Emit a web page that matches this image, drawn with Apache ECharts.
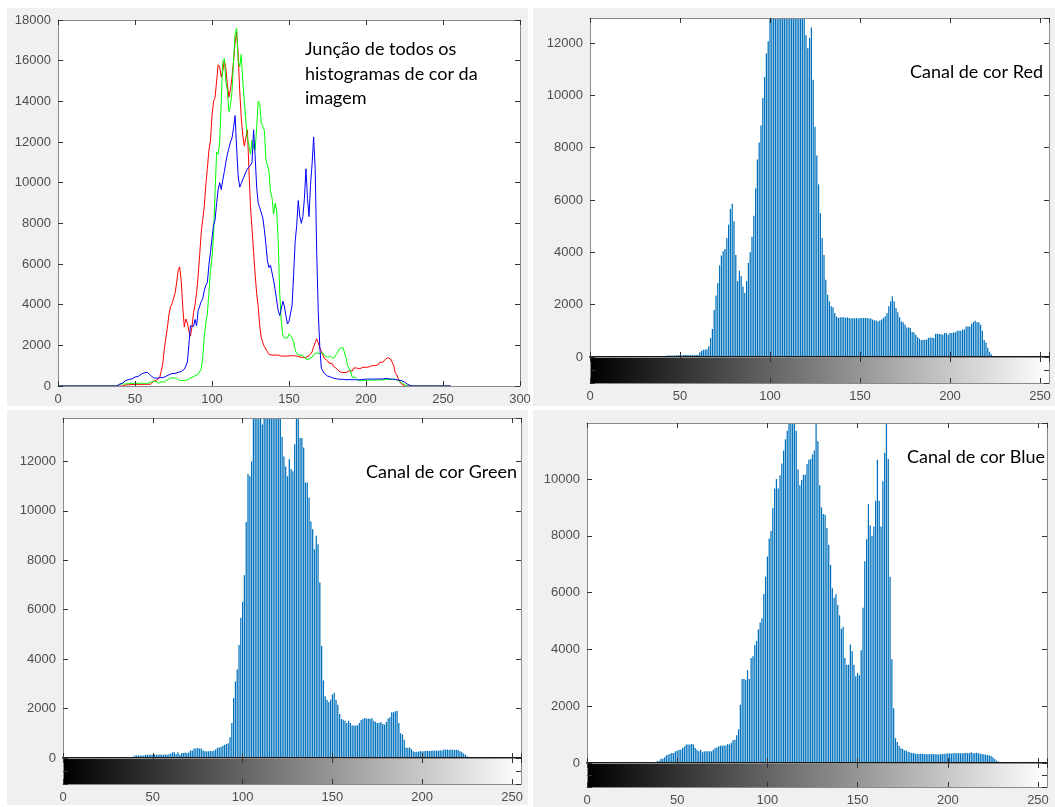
<!DOCTYPE html>
<html>
<head>
<meta charset="utf-8">
<script src="https://cdn.jsdelivr.net/npm/echarts@6/dist/echarts.min.js"></script>
<style>
  html, body { margin: 0; padding: 0; background: #fff; }
  #chart { width: 1055px; height: 807px; }
</style>
</head>
<body>
<div id="chart"></div>
<script>
// contagem de pixels por nível de intensidade (0..255), 16 níveis por linha
const redCounts = [
  0,0,0,0,0,0,0,0,0,0,0,0,0,0,0,0,
  0,0,0,0,0,0,0,0,0,0,0,0,0,0,0,0,
  0,0,0,0,0,0,0,0,0,0,0,60,60,60,60,60,
  70,70,80,70,80,80,80,80,80,80,80,80,90,180,230,280,
  290,300,410,730,1070,1800,2350,2830,3500,3880,4040,4130,4550,5060,5660,5860,
  5190,3900,2900,3300,3100,2700,2450,2900,3600,4000,4600,5400,6450,7550,8200,8850,
  9900,10700,11600,12070,13300,14000,14200,15000,15800,15700,15200,15500,16000,15600,14800,14200,
  14600,15200,16000,16900,17400,16300,14500,13200,12300,11800,12200,12600,10600,8800,7700,6600,
  5500,4550,3900,2950,2380,2130,1940,1900,1680,1550,1490,1520,1520,1520,1490,1520,
  1490,1470,1490,1470,1490,1470,1490,1490,1490,1490,1490,1470,1470,1430,1400,1400,
  1360,1400,1430,1490,1560,1680,1940,2130,2320,2130,1870,1710,1520,1360,1330,1240,
  1130,1130,1110,960,940,850,760,700,640,660,660,660,730,750,750,730,
  890,890,880,880,850,920,920,850,920,920,940,940,1000,1000,1000,1050,
  1050,1170,1170,1170,1270,1340,1390,1330,1330,1240,1000,650,550,350,200,100,
  40,0,0,0,0,0,0,0,0,0,0,0,0,0,0,0,
  0,0,0,0,0,0,0,0,0,0,0,0,0,0,0,0
];
const greenCounts = [
  0,0,0,0,0,0,0,0,0,0,0,0,0,0,0,0,
  0,0,0,0,0,0,0,0,0,0,0,0,0,0,0,0,
  0,0,0,0,0,0,0,50,100,100,100,100,100,100,130,130,
  130,130,130,140,130,130,140,130,130,140,130,150,180,230,230,150,
  230,130,200,200,220,200,220,300,300,380,380,400,380,380,300,270,
  270,270,280,270,300,340,410,430,450,500,540,570,600,840,1420,2430,
  3100,3580,4570,5680,6320,7400,9550,11500,11400,12000,14000,16000,16100,15000,14500,13500,
  13800,14500,16000,17300,17600,16000,15700,16300,15000,14000,13000,12200,11800,11400,12100,11700,
  11600,12700,14000,13900,12950,12950,12570,11150,11150,10540,9570,9260,8450,8990,8650,7100,
  4530,3140,2500,2360,2270,2360,2570,2640,2360,2160,1780,1580,1550,1510,1420,1510,
  1420,1320,1320,1320,1320,1420,1540,1580,1620,1600,1600,1580,1620,1510,1460,1420,
  1420,1460,1380,1350,1460,1600,1650,1850,1850,1890,1900,1420,1000,950,740,430,
  400,430,360,270,240,250,260,280,260,280,280,290,280,290,300,290,
  300,300,310,300,340,330,340,320,340,330,320,330,320,270,240,180,
  130,70,30,0,0,0,0,0,0,0,0,0,0,0,0,0,
  0,0,0,0,0,0,0,0,0,0,0,0,0,0,0,0
];
const blueCounts = [
  0,0,0,0,0,0,0,0,0,0,0,0,0,0,0,0,
  0,0,0,0,0,0,0,0,0,0,0,0,0,0,0,0,
  0,0,0,0,0,0,0,60,80,150,150,200,270,300,320,350,
  350,410,440,460,470,530,580,650,650,650,670,650,530,470,410,470,
  380,410,410,410,410,410,470,530,550,590,610,610,620,620,670,650,
  710,800,820,980,1180,2050,2960,2960,2930,3270,2960,3700,3760,4150,4300,4700,
  4950,5100,5950,6560,7270,7900,8170,8980,9660,10000,9660,10130,10540,11000,11400,11700,
  12000,12200,12700,13300,11700,10330,9780,9960,10150,10150,10530,10680,10700,10860,11000,12600,
  11330,9780,9000,8770,8740,8270,7680,6970,6150,5820,5940,5560,5200,4730,4800,3700,
  3460,3460,4170,3930,3460,3050,3170,3090,3970,5470,7100,7880,9120,8360,8000,8330,
  9230,10680,9230,8330,9920,10920,12250,10700,6560,3650,1930,870,740,610,520,490,
  440,440,400,380,350,350,330,330,320,330,320,310,320,310,320,310,
  320,310,310,300,310,320,330,330,340,340,330,340,350,340,350,340,
  340,350,360,340,350,380,340,350,360,340,330,320,310,290,280,270,
  250,200,140,80,50,20,0,0,0,0,0,0,0,0,0,0,
  0,0,0,0,0,0,0,0,0,0,0,0,0,0,0,0
];

// eixos
const lineXTicks = [0, 50, 100, 150, 200, 250, 300];
const lineYTicks = [0, 2000, 4000, 6000, 8000, 10000, 12000, 14000, 16000, 18000];
const histXTicks = [0, 50, 100, 150, 200, 250];
const histXMax = 255;
const redYMax = 12960, greenYMax = 13760, blueYMax = 11970;

const titles = {
  all: 'Junção de todos os\nhistogramas de cor da\nimagem',
  red: 'Canal de cor Red',
  green: 'Canal de cor Green',
  blue: 'Canal de cor Blue'
};

const BOX = '#8a8a8a', TICK = '#333', LABEL = '#4d4d4d';
const AXFONT = '"Liberation Sans", Arial, sans-serif';
const TXFONT = 'Lato, "Open Sans", sans-serif';

const grid = [], xAxis = [], yAxis = [], series = [];

function axis(gi, pos, lim, labels, line) {
  return {
    type: 'value', gridIndex: gi, position: pos, z: 5,
    min: lim[0], max: lim[1], interval: lim[2],
    splitLine: { show: false },
    axisLine: { show: true, onZero: false, lineStyle: line || { color: BOX, width: 1 } },
    axisTick: { show: true, inside: true, length: 5, lineStyle: { color: TICK, width: 1 } },
    axisLabel: labels ? {
      show: true, color: LABEL, fontSize: 13, fontFamily: AXFONT, margin: 7,
      showMaxLabel: lim[1] % lim[2] === 0,
      formatter: function (v) { return String(v); }
    } : { show: false }
  };
}

function panel(r, xl, yl, xLab, yLab, bottomLine) {
  const gi = grid.length;
  grid.push({ left: r[0], top: r[1], width: r[2], height: r[3], show: true,
    backgroundColor: '#fff', borderWidth: 0, containLabel: false });
  const xi = xAxis.length, yi = yAxis.length;
  xAxis.push(axis(gi, 'bottom', xl, xLab, bottomLine), axis(gi, 'top', xl, false));
  yAxis.push(axis(gi, 'left', yl, yLab), axis(gi, 'right', yl, false));
  return { x: xi, y: yi };
}

// painel 1: linhas
const lp = panel([58, 20, 462, 366],
  [lineXTicks[0], lineXTicks[lineXTicks.length - 1], lineXTicks[1] - lineXTicks[0]],
  [lineYTicks[0], lineYTicks[lineYTicks.length - 1], lineYTicks[1] - lineYTicks[0]], true, true);
[['#ff0000', redCounts], ['#00ff00', greenCounts], ['#0000ff', blueCounts]].forEach(function (s) {
  series.push({
    type: 'line', xAxisIndex: lp.x, yAxisIndex: lp.y, symbol: 'none', silent: true,
    data: s[1].map(function (v, i) { return [i, v]; }),
    lineStyle: { color: s[0], width: 1 }
  });
});

const grayBar = new echarts.graphic.LinearGradient(0, 0, 1, 0, [
  { offset: 0, color: '#000' }, { offset: 1, color: '#fff' }
]);

function histPanel(r, yMax, counts) {
  const xl = [histXTicks[0], histXMax, histXTicks[1] - histXTicks[0]];
  const hp = panel(r, xl, [0, yMax, 2000], false, true, { color: '#1a1a1a', width: 2 });
  series.push({
    type: 'bar', xAxisIndex: hp.x, yAxisIndex: hp.y, barWidth: 1.25, clip: true, silent: true,
    data: counts.map(function (v, i) { return [i, v]; }),
    itemStyle: { color: '#0072bd' }
  });
  const cp = panel([r[0], r[1] + r[3], r[2], 26], xl, [0, 2, 1], true, false);
  series.push({
    type: 'custom', xAxisIndex: cp.x, yAxisIndex: cp.y, silent: true,
    data: [[histXTicks[0], histXMax]],
    renderItem: function (params, api) {
      const a = api.coord([api.value(0), 0]);
      const b = api.coord([api.value(1), 2]);
      return { type: 'rect', shape: { x: a[0], y: b[1], width: b[0] - a[0], height: a[1] - b[1] },
        style: { fill: grayBar } };
    }
  });
}

histPanel([590, 18, 459, 339], redYMax, redCounts);
histPanel([63, 418, 458, 340], greenYMax, greenCounts);
histPanel([587, 423, 460, 340], blueYMax, blueCounts);

const ttl = { fontFamily: TXFONT, fontSize: 18, fontWeight: 'normal', color: '#000', lineHeight: 24.5 };

const chart = echarts.init(document.getElementById('chart'), null, { renderer: 'canvas' });
chart.setOption({
  animation: false,
  backgroundColor: '#fff',
  graphic: [
    { type: 'rect', z: -10, silent: true, shape: { x: 7, y: 8, width: 521, height: 398 }, style: { fill: '#f0f0f0' } },
    { type: 'rect', z: -10, silent: true, shape: { x: 533, y: 8, width: 522, height: 398 }, style: { fill: '#f0f0f0' } },
    { type: 'rect', z: -10, silent: true, shape: { x: 7, y: 410, width: 521, height: 395 }, style: { fill: '#f0f0f0' } },
    { type: 'rect', z: -10, silent: true, shape: { x: 533, y: 410, width: 522, height: 397 }, style: { fill: '#f0f0f0' } }
  ],
  title: [
    { text: titles.all, left: 305, top: 37, padding: 0, textStyle: ttl },
    { text: titles.red, right: 12, top: 60, padding: 0, textStyle: ttl },
    { text: titles.green, right: 538, top: 460, padding: 0, textStyle: ttl },
    { text: titles.blue, right: 10, top: 445, padding: 0, textStyle: ttl }
  ],
  grid: grid,
  xAxis: xAxis,
  yAxis: yAxis,
  series: series
});
</script>
</body>
</html>
